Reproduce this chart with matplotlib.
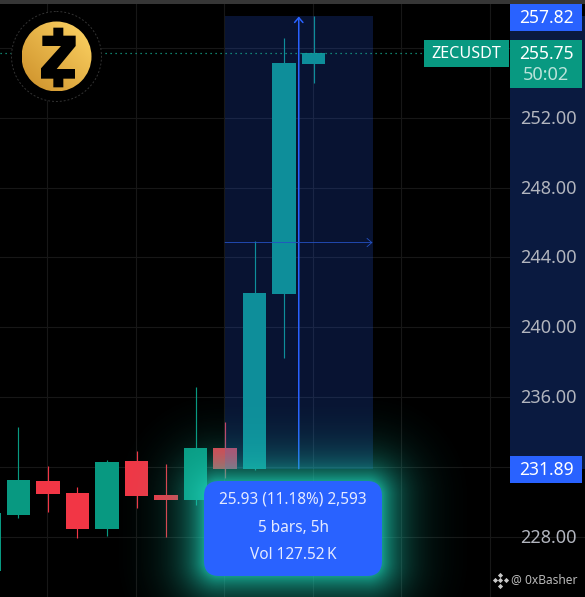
import numpy as np
import matplotlib
matplotlib.use('Agg')
import matplotlib.pyplot as plt
from matplotlib.patches import Circle, FancyBboxPatch, Polygon, Rectangle

plt.rcParams['font.family'] = ['Noto Sans', 'DejaVu Sans']

# candles, oldest first
opens = [226.02, 229.23, 231.18, 230.49, 228.43, 232.33, 230.38, 230.09, 233.07, 231.87, 241.90, 255.09]
closes = [229.35, 231.24, 230.44, 228.43, 232.27, 230.32, 230.09, 233.07, 231.87, 241.96, 255.15, 255.75]
highs = [229.60, 234.28, 232.04, 230.84, 232.39, 232.90, 232.16, 236.57, 234.57, 244.94, 256.58, 257.85]
lows = [225.50, 229.06, 229.40, 227.91, 228.03, 229.63, 227.97, 229.81, 231.35, 231.81, 238.24, 254.00]

price_ticks = [228, 232, 236, 240, 244, 248, 252, 256]
price_labels = [228, 236, 240, 244, 248, 252]
time_ticks = [1.98, 4.98, 7.98, 10.98, 13.98, 16.98]

range_low = 231.89
range_high = 257.82
range_start = 8
range_end = 13
last_price = 255.75
countdown = '50:02'
symbol = 'ZECUSDT'
tooltip_lines = ['25.93 (11.18%) 2,593', '5 bars, 5h', 'Vol 127.52\u2009K']

GREEN = '#089981'
RED = '#f23645'
BLUE = '#2962ff'
W, H = 585, 597

fig = plt.figure(figsize=(W / 100, H / 100), dpi=100, facecolor='black')
ax = fig.add_axes([0, 0, 1, 1], facecolor='black')
ax.set_xlim(0.373, 20.203)
ax.set_ylim(224.531, 258.763)
ax.set_xticks(time_ticks)
ax.set_yticks(price_ticks)
ax.grid(True, color='#171717', lw=0.8, zorder=0)
ax.set_axisbelow(True)
ax.tick_params(left=False, bottom=False, labelleft=False, labelbottom=False)
for s in ax.spines.values():
    s.set_visible(False)

idx = np.arange(len(opens))
opens_a = np.array(opens)
closes_a = np.array(closes)
cols = [GREEN if c >= o else RED for o, c in zip(opens, closes)]
ax.vlines(idx, lows, highs, colors=cols, lw=0.85, zorder=2)
ax.bar(idx, np.abs(closes_a - opens_a), bottom=np.minimum(opens_a, closes_a), width=0.78, color=cols, zorder=3)

# measure box
ax.fill_between([range_start, range_end], range_low, range_high, color=BLUE, alpha=0.2, lw=0, zorder=4)
mid_x = (range_start + range_end) / 2
mid_y = (range_low + range_high) / 2
ax.annotate('', xy=(mid_x, range_high), xytext=(mid_x, range_low), zorder=5,
            arrowprops=dict(arrowstyle='->,head_length=0.35,head_width=0.3', color=BLUE, lw=1.1, shrinkA=0, shrinkB=0))
ax.annotate('', xy=(range_end, mid_y), xytext=(range_start, mid_y), zorder=5,
            arrowprops=dict(arrowstyle='->,head_length=0.35,head_width=0.3', color='#2451c4', lw=0.6, shrinkA=0, shrinkB=0))

ax.axhline(last_price, color='#14a88e', lw=0.9, ls=(0, (1, 3)), zorder=5)

# price scale background
ax.axhspan(range_low, range_high, xmin=510 / W, xmax=1, color='#0a1a40', lw=0, zorder=6)
ax.axvspan(ax.get_xlim()[0], ax.get_xlim()[1], ymin=1 - 4 / H, ymax=1, color='#363636', lw=0, zorder=6)

# overlay in pixels for the chrome
ov = fig.add_axes([0, 0, 1, 1], facecolor='none')
ov.set_axis_off()


def py(price):
    return H - ax.transData.transform((0, price))[1] * 100 / fig.dpi


# tooltip glow
px, py_grid = np.meshgrid(np.arange(W) + 0.5, np.arange(H) + 0.5)
qx = np.abs(px - 293) - (89 - 15)
qy = np.abs(py_grid - 528.5) - (47.5 - 15)
dist = np.hypot(np.maximum(qx, 0), np.maximum(qy, 0)) + np.minimum(np.maximum(qx, qy), 0) - 15
glow = np.zeros((H, W, 4))
glow[..., :3] = (0.11, 0.78, 0.68)
glow[..., 3] = np.clip(0.8 * np.exp(-np.maximum(dist, 0) / 23.0) - 0.012, 0, 1)
ov.imshow(glow, extent=(0, W, H, 0), aspect='auto', zorder=2, interpolation='nearest')
ov.add_patch(FancyBboxPatch((204, 481), 178, 95, boxstyle='round,pad=0,rounding_size=15',
                            fc=BLUE, ec='none', zorder=3))
for line, y in zip(tooltip_lines, [500, 527.5, 555]):
    ov.text(293, y, line, color='#e4eaff', fontsize=11.1, fontweight='bold', ha='center', va='center', zorder=4)

# logo
ov.add_patch(Circle((56.5, 56.5), 45, fc='black', ec='#333333', lw=0.7, ls=(0, (2, 2)), zorder=5))
gx, gy = np.meshgrid(np.linspace(0, 1, 80), np.linspace(0, 1, 80))
gold = np.zeros((80, 80, 3))
t = (gx + (1 - gy)) / 2
for k, (a, b) in enumerate(zip((0.80, 0.56, 0.16), (1.0, 0.84, 0.40))):
    gold[..., k] = a + (b - a) * t
im = ov.imshow(gold, extent=(21.5, 91.5, 91.5, 21.5), aspect='auto', zorder=6, interpolation='bilinear')
im.set_clip_path(Circle((56.5, 56.5), 35, transform=ov.transData))
z_shape = np.array([(160, 83), (190, 83), (190, 107), (227, 107), (227, 138), (170, 207), (225, 207), (225, 236),
                    (190, 236), (190, 262), (160, 262), (160, 236), (123, 236), (123, 205), (183, 138), (127, 138),
                    (127, 107), (160, 107)]) / 3
ov.add_patch(Polygon(z_shape, fc='black', ec='none', zorder=7))

# price labels
for p in price_labels:
    ov.text(548, py(p) + 1, '%.2f' % p, color='#b2b5be', fontsize=13, ha='center', va='center', zorder=8)
ov.add_patch(Rectangle((510, 4), 72, 27, fc=BLUE, ec='none', zorder=8))
ov.text(546, 18, '%.2f' % range_high, color='white', fontsize=12.6, fontweight='bold', ha='center', va='center', zorder=9)
ov.add_patch(Rectangle((510, 456), 72, 27, fc=BLUE, ec='none', zorder=8))
ov.text(546, 470, '%.2f' % range_low, color='white', fontsize=12.6, fontweight='bold', ha='center', va='center', zorder=9)
ov.add_patch(Rectangle((510, 40), 72, 48, fc=GREEN, ec='none', zorder=8))
ov.text(546, 54, '%.2f' % last_price, color='white', fontsize=12.6, fontweight='bold', ha='center', va='center', zorder=9)
ov.text(546, 74.5, countdown, color='#b9e3da', fontsize=13, ha='center', va='center', zorder=9)
ov.add_patch(Rectangle((424, 40), 85, 27, fc=GREEN, ec='none', zorder=8))
ov.text(466.5, 54, symbol, color='white', fontsize=11.6, fontweight='bold', ha='center', va='center', zorder=9)

# watermark
ov.scatter([500], [580], marker='D', s=7, color='#c8c8c8', lw=0, zorder=9)
ov.scatter([500, 500, 494.5, 505.5], [574.5, 585.5, 580, 580], marker='D', s=7, color='#c8c8c8', lw=0, zorder=9)
ov.text(511, 580, '@ 0xBasher', color='#b8b8b8', fontsize=8.6, ha='left', va='center', zorder=9)

ov.set_xlim(0, W)
ov.set_ylim(H, 0)

fig.savefig('out.png', dpi=100, facecolor='black')
